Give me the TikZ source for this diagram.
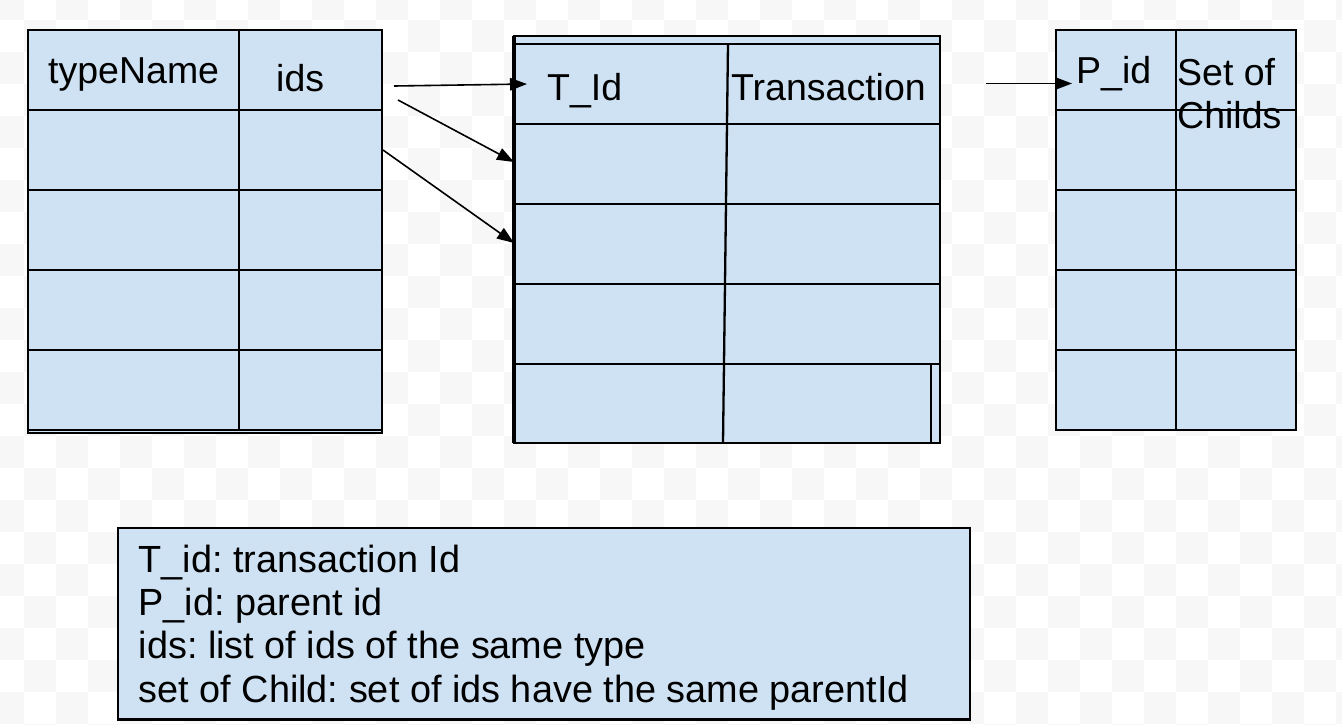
\documentclass[tikz,border=0pt]{standalone}
\usepackage{fontspec}
\setmainfont{Liberation Sans}
\usetikzlibrary{arrows.meta}
\definecolor{cellblue}{RGB}{207,226,243}
\definecolor{checker}{RGB}{247,247,247}
\frenchspacing
\begin{document}
\begin{tikzpicture}[x=1pt,y=-1pt,
  gridline/.style={draw=black,line width=2.3pt},
  tbl/.style={fill=cellblue,draw=black,line width=2.3pt},
  lbl/.style={anchor=base west,inner sep=0pt,font=\fontsize{37.5}{43}\selectfont},
  leglbl/.style={anchor=base west,inner sep=0pt,font=\fontsize{37.85}{44}\selectfont},
  arr/.style={-{Triangle[length=17pt,width=12.5pt]},line width=1.6pt}]
\useasboundingbox (0,0) rectangle (1342,724);
\fill[white] (0,0) rectangle (1342,724);
\foreach \i in {0,...,42}{
  \foreach \j in {0,...,23}{
    \pgfmathtruncatemacro\parity{mod(\i+\j,2)}
    \ifnum\parity=0
      \fill[checker] ({24+32*(\i-1)},{19.5+32*(\j-1)}) rectangle +(32,32);
    \fi
  }
}
% left table
\filldraw[tbl] (28,30) rectangle (382,433);
\draw[gridline] (28,30) rectangle (382,430);
\foreach \r in {110,190,270,350} \draw[gridline] (28,\r) -- (382,\r);
\draw[gridline] (239,30) -- (239,430);
% middle table
\filldraw[tbl] (514,36) rectangle (940,443);
\foreach \r in {44,124,204,284,364} \draw[gridline] (514,\r) -- (940,\r);
\draw[gridline] (728,44) -- (723,443);
\draw[gridline] (931,364) -- (931,443);
\draw[line width=4pt] (514,36) -- (514,443);
% right table
\filldraw[tbl] (1056,30) rectangle (1296,430);
\foreach \r in {110,190,270,350} \draw[gridline] (1056,\r) -- (1296,\r);
\draw[gridline] (1176,30) -- (1176,430);
% labels
\node[lbl] (typename) at (48,83.5) {typeName};
\node[lbl] (ids) at (276,91) {ids};
\node[lbl] (tid) at (547,100) {T\_Id};
\node[lbl] (trans) at (731,100) {Transaction};
\node[lbl] (pid) at (1076,83) {P\_id};
\node[lbl] (setof) at (1177,85) {Set of};
\node[lbl] (childs) at (1177,128.5) {Childs};
% arrows
\coordinate (a1s) at (394,86);
\coordinate (a1e) at (527,84);
\coordinate (a2s) at (398,100);
\coordinate (a2e) at (514,162);
\coordinate (a3s) at (383,150);
\coordinate (a3e) at (514,243);
\coordinate (a4s) at (986,83.5);
\coordinate (a4e) at (1072,83.5);
\draw[arr] (a1s) -- (a1e);
\draw[arr] (a2s) -- (a2e);
\draw[arr] (a3s) -- (a3e);
\draw[arr] (a4s) -- (a4e);
% legend
\filldraw[tbl] (118,528) rectangle (970,719.5);
\node[leglbl] (leg1) at (138.5,572) {T\_id: transaction Id};
\node[leglbl] (leg2) at (138.5,615.3) {P\_id: parent id};
\node[leglbl] (leg3) at (138.5,658.7) {ids: list of ids of the same type};
\node[leglbl] (leg4) at (138.5,702) {set of Child: set of ids have the same parentId};
\end{tikzpicture}
\end{document}
